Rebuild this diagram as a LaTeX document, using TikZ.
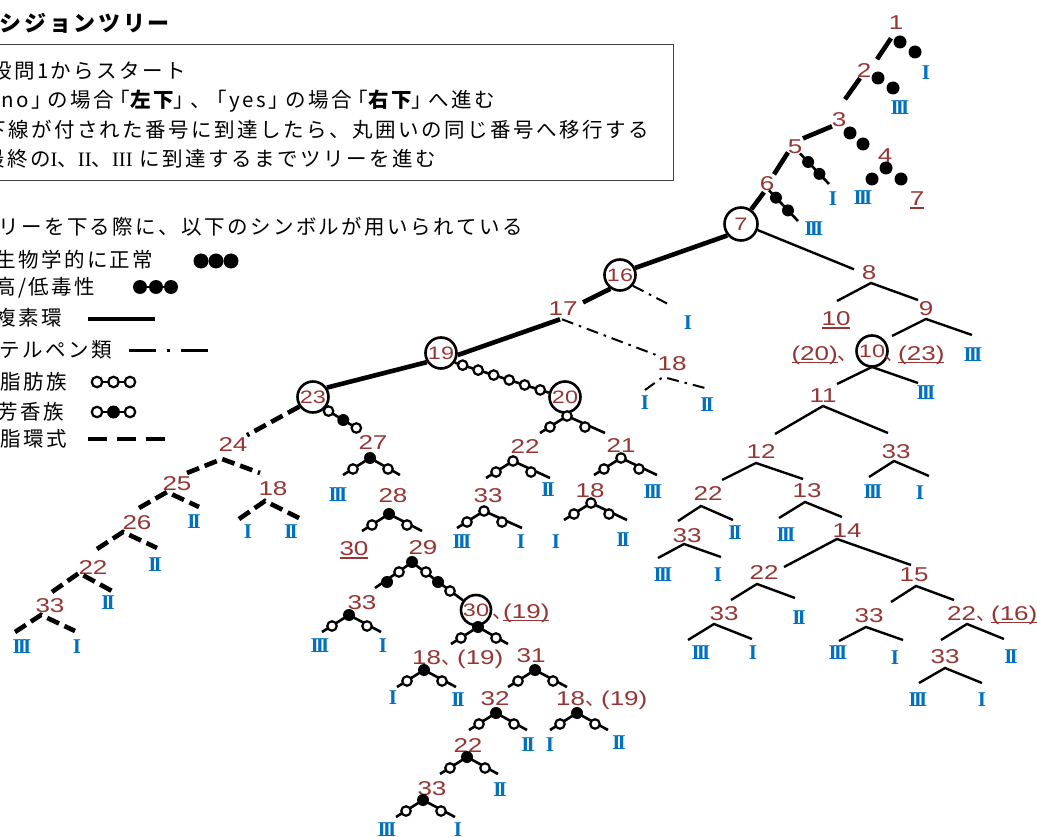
\documentclass[tikz,border=0pt]{standalone}
\usepackage{fontspec}
\usetikzlibrary{calc}
\newfontfamily\jp[LetterSpace=12]{Noto Sans CJK JP}
\newfontfamily\jpn{Noto Sans CJK JP}
\newfontfamily\numf[FakeStretch=1.3]{Liberation Sans}
\newfontfamily\serI{Liberation Serif}
\newfontfamily\serB{Liberation Serif}
\definecolor{numc}{RGB}{150,54,52}
\definecolor{leafc}{RGB}{0,112,192}
\newsavebox\ulbox
\newcommand\ulx[1]{\sbox\ulbox{#1}\rlap{\rule[-3pt]{\wd\ulbox}{1.3pt}}\usebox\ulbox}
\newcommand\RI{I}
\newcommand\RII{I\kern-3pt I}
\newcommand\RIII{I\kern-3pt I\kern-3pt I}
\tikzset{
  num/.style={text=numc, font=\numf\fontsize{20}{22}\selectfont, inner sep=0pt, anchor=base, yshift=-7.2pt},
  numw/.style={num, anchor=base west},
  nume/.style={num, anchor=base east},
  cnum/.style={circle, draw, line width=2.6pt, minimum size=31pt, inner sep=0pt, text=numc, font=\numf\fontsize{18}{18}\selectfont},
  leaf/.style={text=leafc, font=\serB\bfseries\fontsize{21}{21}\selectfont, inner sep=0pt},
  jtext/.style={font=\jp\fontsize{20.5}{24}\selectfont, anchor=base west, inner sep=0pt},
  boxline/.style={line width=1pt, black!75},
  br/.style={line width=2.4pt},
  hetero/.style={line width=4.6pt},
  terp/.style={line width=2pt, dash pattern=on 12pt off 6pt on 2.5pt off 6pt},
  alic/.style={line width=4.6pt, dash pattern=on 13pt off 6pt},
  seg/.style={line width=4.6pt},
  chain/.style={line width=2.6pt},
  dotf/.style={circle, fill=black, minimum size=12pt, inner sep=0pt},
  doto/.style={circle, draw, fill=white, line width=2.2pt, minimum size=9.5pt, inner sep=0pt},
  bio/.style={circle, fill=black, minimum size=13pt, inner sep=0pt},
  pics/lam/.style args={#1/#2/#3}{code={\draw[#1] (#2) -- (0,0) -- (#3);}},
  pics/sym/.style args={#1/#2/#3}{code={
     \draw[chain] (-27,17) -- (0,0) -- (#3,17);
     \node[dot#2] at (-17,11) {};
     \node[dot#2] at (18,11) {};
     \node[dot#1] at (0,0) {};
  }},
}
\begin{document}
\begin{tikzpicture}[x=1pt,y=-1pt]
\useasboundingbox (0,0) rectangle (1037,837);
\fill[white] (0,0) rectangle (1037,837);

% ---------------- title and instruction box
\node[font=\jp\bfseries\fontsize{22}{24}\selectfont, anchor=base west, inner sep=0pt] (title) at (-48,32) {ディシジョンツリー};
\draw[boxline] (-3,44.5) rectangle (673,180.5);
\node[jtext] (bx1) at (-9,78.5) {設問1からスタート};
\node[jtext] (bx2) at (-22,108) {「no」\kern-4pt の場合\kern-4pt「{\bfseries 左下}」\kern-4pt 、\kern-4pt「yes」\kern-4pt の場合\kern-4pt「{\bfseries 右下}」\kern-4pt へ進む};
\node[jtext] (bx3) at (-15,137.5) {下線が付された番号に到達したら、丸囲いの同じ番号へ移行する};
\node[jtext] (bx4) at (-16,166.5) {最終の{\serI I}、{\serI II}、{\serI III} に到達するまでツリーを進む};

% ---------------- legend
\node[jtext] (lg0) at (-25,234.5) {ツリーを下る際に、以下のシンボルが用いられている};
\node[jtext] (lg1) at (-5,268) {生物学的に正常};
\node[jtext] (lg2) at (-5,295) {高/低毒性};
\node[jtext] (lg3) at (-5,326) {複素環};
\node[jtext] (lg4) at (-1,357) {テルペン類};
\node[jtext] (lg5) at (0,389.5) {脂肪族};
\node[jtext] (lg6) at (-3,419) {芳香族};
\node[jtext] (lg7) at (0,446) {脂環式};
\node[bio, minimum size=15pt] (s1a) at (201,261) {};
\node[bio, minimum size=15pt] (s1b) at (216,261) {};
\node[bio, minimum size=15pt] (s1c) at (231,261) {};
\draw[chain] (140,287) -- (171,287);
\node[bio, minimum size=14pt] (s2a) at (140,287) {};
\node[bio, minimum size=14pt] (s2b) at (156,287) {};
\node[bio, minimum size=14pt] (s2c) at (171,287) {};
\draw[line width=3.3pt] (88,319) -- (155,319);
\draw[line width=3pt, dash pattern=on 27pt off 10.5pt on 3pt off 11.5pt on 27pt] (129,350) -- (208,350);
\draw[chain] (97,382) -- (130,382);
\node[doto, minimum size=10.5pt] (s5a) at (97,382) {};
\node[doto, minimum size=10.5pt] (s5b) at (113.5,382) {};
\node[doto, minimum size=10.5pt] (s5c) at (130,382) {};
\draw[chain] (97,412) -- (130,412);
\node[doto, minimum size=10.5pt] (s6a) at (97,412) {};
\node[dotf, minimum size=13pt] (s6b) at (113.5,412) {};
\node[doto, minimum size=10.5pt] (s6c) at (130,412) {};
\draw[line width=4.5pt, dash pattern=on 19pt off 10pt] (88,439) -- (166,439);

% ---------------- top right part
\node[num] (n1) at (896,22) {1};
\node[num] (n2) at (864,70) {2};
\node[num] (n3) at (839,119) {3};
\node[num] (n4) at (885,155) {4};
\node[num] (n5) at (795,146) {5};
\node[num] (n6) at (767,183) {6};
\node[cnum, minimum size=33pt] (c7) at (741,224) {7};
\node[leaf] (l1) at (926,73) {\RI};
\node[leaf] (l2) at (900,108) {\RIII};
\node[leaf] (l4a) at (863,198) {\RIII};
\node[num] (l4b) at (917,198.5) {\ulx{7}};
\node[leaf] (l5) at (833,199) {\RI};
\node[leaf] (l6) at (814,229) {\RIII};

\draw[seg] ($(n1)+(-5,16)$) -- ($(n2)+(13,-11)$);
\draw[seg] ($(n2)+(-4,8)$) -- ($(n3)+(6,-20)$);
\draw[seg] ($(n3)+(-7,7)$) -- ($(n5)+(8,-8)$);
\draw[seg] ($(n5)+(-7,6)$) -- ($(n6)+(7,-9)$);
\draw[seg] ($(n6)+(-3,9)$) -- (c7.55);

\node[bio] (b1a) at (900,42) {};
\node[bio] (b1b) at (915,52) {};
\node[bio] (b2a) at (878,78) {};
\node[bio] (b2b) at (893,88) {};
\node[bio] (b3a) at (850,133) {};
\node[bio] (b3b) at (863,144) {};
\node[bio] (b4a) at (886,168) {};
\node[bio] (b4b) at (872,179) {};
\node[bio] (b4c) at (901,179) {};
\coordinate (e5) at (829,184);
\coordinate (e6) at (798,221);
\draw[chain] ($(n5)+(5,7)$) -- (e5) node[bio, minimum size=12pt, pos=0.28]{} node[bio, minimum size=12pt, pos=0.67]{};
\draw[chain] ($(n6)+(2,7)$) -- (e6) node[bio, minimum size=12pt, pos=0.24]{} node[bio, minimum size=12pt, pos=0.655]{};

% ---------------- right part (plain lines)
\node[num] (n8) at (869,272) {8};
\node[num] (n9) at (926,308) {9};
\node[num] (n10u) at (836,318.5) {\ulx{10}};
\node[cnum] (c10) at (872,351) {10};
\node[nume] (t20) at (858,353) {\ulx{(20)}{\jpn 、}};
\node[numw] (t23) at (884,353) {{\jpn 、}\kern-6pt\ulx{(23)}};
\node[leaf] (l9) at (973,355) {\RIII};
\node[num] (n11) at (823,395) {11};
\node[leaf] (l10) at (926,393) {\RIII};
\node[num] (n12) at (761,451) {12};
\node[num] (n33a) at (896,451) {33};
\node[leaf] (l33a1) at (873,492) {\RIII};
\node[leaf] (l33a2) at (920,493) {\RI};
\node[num] (n22a) at (708,493) {22};
\node[num] (n13) at (807,490) {13};
\node[num] (n33b) at (687,535) {33};
\node[leaf] (l22a) at (735,533) {\RII};
\node[leaf] (l33b1) at (663,575) {\RIII};
\node[leaf] (l33b2) at (718,575) {\RI};
\node[leaf] (l13) at (786,535) {\RIII};
\node[num] (n14) at (847,530) {14};
\node[num] (n22b) at (764,572) {22};
\node[num] (n15) at (914,574) {15};
\node[num] (n33c) at (724,613) {33};
\node[leaf] (l22b) at (799,618) {\RII};
\node[leaf] (l33c1) at (701,653) {\RIII};
\node[leaf] (l33c2) at (753,653) {\RI};
\node[num] (n33d) at (869,615) {33};
\node[numw] (n22c) at (947,613) {22{\jpn 、}\kern-5pt\ulx{(16)}};
\node[leaf] (l33d1) at (838,653) {\RIII};
\node[leaf] (l33d2) at (895,658) {\RI};
\node[num] (n33e) at (945,656) {33};
\node[leaf] (l22c) at (1011,657) {\RII};
\node[leaf] (l33e1) at (918,700) {\RIII};
\node[leaf] (l33e2) at (982,700) {\RI};

\draw[br] (c7.-20) -- ($(n8)+(-15,-3)$);
\pic at (871,283) {lam={br/-34,18/47,17}};
\pic at (926,319) {lam={br/-34,17/46,16}};
\pic at (872,367) {lam={br/-35,17/46,16}};
\pic at (823,406) {lam={br/-48,28/65,27}};
\pic at (756,463) {lam={br/-34,17/47,16}};
\pic at (894,461) {lam={br/-25,16/35,15}};
\pic at (701,506) {lam={br/-23,15/32,14}};
\pic at (684,544) {lam={br/-26,14/37,13}};
\pic at (805,502) {lam={br/-26,16/37,15}};
\pic at (837,539) {lam={br/-53,28/74,26}};
\pic at (757,584) {lam={br/-26,16/38,14}};
\pic at (714,624) {lam={br/-26,16/38,15}};
\pic at (916,586) {lam={br/-25,16/38,14}};
\pic at (866,627) {lam={br/-27,14/37,13}};
\pic at (967,624) {lam={br/-26,16/37,15}};
\pic at (945,668) {lam={br/-26,15/37,15}};

% ---------------- middle part
\node[cnum] (c16) at (620,275) {16};
\node[leaf] (l16) at (688,323) {\RI};
\node[num] (n17) at (563,308) {17};
\node[num] (n18a) at (672,363) {18};
\node[leaf] (l18a1) at (645,403) {\RI};
\node[leaf] (l18a2) at (707,405) {\RII};
\node[cnum] (c19) at (441,353) {19};
\node[cnum] (c20) at (565,397) {20};
\node[cnum] (c23) at (313,397) {23};

\draw[hetero] (c7.220) -- (c16.25);
\draw[terp] (c16.-40) -- ($(l16)+(-18,-18)$);
\draw[hetero] (c16.235) -- ($(n17)+(20,-6)$);
\draw[hetero] ($(n17)+(-3,11)$) -- (c19.-7);
\draw[terp] ($(n17)+(-1,11)$) -- ($(n18a)+(-15,-8)$);
\pic at (663,377) {lam={terp/-18,13/42,11}};
\draw[hetero] (c19.213) -- (c23.34);
\draw[chain] (c19.-35) -- (c20.165)
  node[doto, pos=0.084]{} node[doto, pos=0.249]{} node[doto, pos=0.414]{}
  node[doto, pos=0.579]{} node[doto, pos=0.744]{} node[doto, pos=0.909]{};

\node[num] (n22d) at (525,446) {22};
\node[leaf] (l22d) at (548,490) {\RII};
\node[num] (n21) at (621,445) {21};
\node[leaf] (l21) at (653,492) {\RIII};
\node[num] (n33f) at (488,495) {33};
\node[leaf] (l33f1) at (462,542) {\RIII};
\node[leaf] (l33f2) at (521,542) {\RI};
\node[num] (n18b) at (590,490) {18};
\node[leaf] (l18b1) at (556,542) {\RI};
\node[leaf] (l18b2) at (623,540) {\RII};
\pic at (567,416) {sym={o/o/38}};
\pic at (513,461) {sym={o/o/37}};
\pic at (621,458) {sym={o/o/36}};
\pic at (484,511) {sym={o/o/38}};
\pic at (591,503) {sym={o/o/36}};

% ---------------- aromatic part
\node[num] (n27) at (373,442) {27};
\node[leaf] (l27) at (338,495) {\RIII};
\node[num] (n28) at (393,495) {28};
\node[num] (n30u) at (354,548.5) {\ulx{30}};
\node[num] (n29) at (423,547) {29};
\node[cnum, minimum size=30pt] (c30) at (476,610) {30};
\node[numw] (t30) at (492,611) {{\jpn 、}\kern-9pt\ulx{(19)}};
\node[num] (n33g) at (362,602) {33};
\node[leaf] (l33g1) at (320,646) {\RIII};
\node[leaf] (l33g2) at (383,646) {\RI};
\node[numw] (n18c) at (412,657) {18{\jpn 、}\kern-4pt(19)};
\node[leaf] (l18c1) at (393,698) {\RI};
\node[leaf] (l18c2) at (458,700) {\RII};
\node[num] (n31) at (531,655) {31};
\node[num] (n32) at (495,698) {32};
\node[leaf] (l32) at (528,745) {\RII};
\node[numw] (n18d) at (556,698) {18{\jpn 、}\kern-4pt(19)};
\node[leaf] (l18d1) at (550,745) {\RI};
\node[leaf] (l18d2) at (619,743) {\RII};
\node[num] (n22e) at (468,745) {22};
\node[leaf] (l22e) at (500,790) {\RII};
\node[num] (n33h) at (432,788) {33};
\node[leaf] (l33h1) at (387,830) {\RIII};
\node[leaf] (l33h2) at (458,830) {\RI};

\coordinate (e23) at (358,429);
\draw[chain] (c23.-45) -- (e23) node[doto, pos=0.11]{} node[dotf, pos=0.555]{} node[doto, pos=0.95]{};
\pic at (370,458) {sym={f/o/30}};
\pic at (389,514) {sym={f/o/33}};
\coordinate (e29) at (375,588);
\draw[chain] (e29) -- ($(n29)+(-11,15)$) -- (c30);
\node[dotf] (d29a) at (412,562) {};
\node[doto] (d29b) at (399,572) {};
\node[dotf] (d29c) at (387,582) {};
\node[doto] (d29d) at (426,572) {};
\node[dotf] (d29e) at (438,582) {};
\node[doto] (d29f) at (450,591) {};
\pic at (478,627) {sym={f/o/30}};
\pic at (349,615) {sym={f/o/32}};
\pic at (424,670) {sym={f/o/32}};
\pic at (535,670) {sym={f/o/32}};
\pic at (496,713) {sym={f/o/31}};
\pic at (577,713) {sym={f/o/31}};
\pic at (467,757) {sym={f/o/31}};
\pic at (423,800) {sym={f/o/32}};

% ---------------- alicyclic part (left)
\node[num] (n24) at (233,444) {24};
\node[num] (n25) at (177,483) {25};
\node[num] (n18e) at (273,488) {18};
\node[num] (n26) at (137,522) {26};
\node[num] (n22f) at (93,567) {22};
\node[num] (n33i) at (50,605) {33};
\node[leaf] (l25) at (194,522) {\RII};
\node[leaf] (l18e1) at (248,532) {\RI};
\node[leaf] (l18e2) at (291,532) {\RII};
\node[leaf] (l26) at (155,565) {\RII};
\node[leaf] (l22f) at (108,603) {\RII};
\node[leaf] (l33i1) at (22,647) {\RIII};
\node[leaf] (l33i2) at (77,647) {\RI};
\draw[alic] (c23.215) -- ($(n24)+(14,-9)$);
\pic at (222,459) {lam={alic/-35,14/38,14}};
\pic at (167,492) {lam={alic/-28,16/32,15}};
\pic at (265,501) {lam={alic/-26,18/34,17}};
\pic at (123,532) {lam={alic/-26,17/34,16}};
\pic at (79,573) {lam={alic/-27,19/33,18}};
\pic at (41,615) {lam={alic/-26,17/34,16}};
\end{tikzpicture}
\end{document}
